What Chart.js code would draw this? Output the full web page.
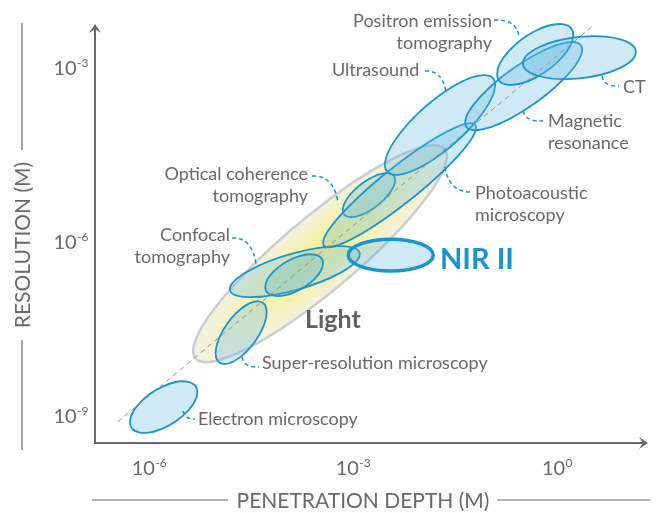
<!DOCTYPE html>
<html>
<head>
<meta charset="utf-8">
<script src="https://cdn.jsdelivr.net/npm/chart.js@4/dist/chart.umd.min.js"></script>
<style>
  body { margin: 0; background: #fff; }
  canvas { display: block; }
</style>
</head>
<body>
<canvas id="chart" width="656" height="513"></canvas>
<script>
// all values are log10 of metres
const techniques = ["Light", "Electron microscopy", "Super-resolution microscopy", "Confocal tomography",
  "Confocal tomography", "Optical coherence tomography", "Photoacoustic microscopy", "Ultrasound",
  "Magnetic resonance", "Positron emission tomography", "CT", "NIR II"];
const depthMin = [-5.35, -6.28, -5.02, -4.81, -4.29, -3.15, -3.44, -2.53, -1.35, -0.88, -0.50, -3.07];
const depthMax = [-1.62, -5.29, -4.27, -2.90, -3.44, -2.38, -1.19, -0.91, 0.37, 0.24, 1.16, -1.82];
const resMin = [-8.08, -9.30, -8.11, -6.96, -6.94, -5.58, -6.10, -4.85, -4.08, -3.30, -3.20, -6.51];
const resMax = [-4.34, -8.41, -7.03, -6.08, -6.22, -4.82, -3.96, -3.13, -2.56, -2.25, -2.46, -5.96];
// how far the deepest end of each region leans toward coarser resolution (0 = level, 1 = a line)
const tilt = [0.9, 0.58, 0.65, 0.68, 0.57, 0.68, 0.93, 0.8, 0.83, 0.64, 0.26, 0];

const xTicks = [-6, -3, 0];
const yTicks = [-9, -6, -3];
const trendDepth = [-6.46, 0.53];
const trendRes = [-9.11, -2.28];

const grey = "#6e6668";
const blue = "#1a94cf";
const font = "Lato, 'Open Sans', sans-serif";

// label text and leader curves, in pixels
const notes = [
  {lines: ["Positron emission", "tomography"], x: 492, y: 27, align: "right", lead: [494, 20, 517, 19, 519, 37]},
  {lines: ["Ultrasound"], x: 332, y: 76, align: "left", lead: [425, 71, 443, 70, 446, 93]},
  {lines: ["CT"], x: 623, y: 93, align: "left", lead: [602, 76, 604, 87, 619, 86]},
  {lines: ["Magnetic", "resonance"], x: 548, y: 127, align: "left", lead: [523, 111, 526, 122, 543, 121]},
  {lines: ["Photoacoustic", "microscopy"], x: 475, y: 199, align: "left", lead: [445, 167, 449, 193, 473, 192]},
  {lines: ["Optical coherence", "tomography"], x: 308, y: 180, align: "right", lead: [312, 176, 334, 175, 338, 203]},
  {lines: ["Confocal", "tomography"], x: 230, y: 241, align: "right", lead: [232, 238, 252, 237, 256, 264]},
  {lines: ["Super-resolution microscopy"], x: 262, y: 369, align: "left", lead: [242, 357, 244, 368, 259, 367]},
  {lines: ["Electron microscopy"], x: 198, y: 425, align: "left", lead: [183, 411, 186, 420, 195, 419]}
];

function ellipsePath(ctx, chart, i) {
  var xs = chart.scales.x, ys = chart.scales.y;
  var cx = xs.getPixelForValue((depthMin[i] + depthMax[i]) / 2);
  var cy = ys.getPixelForValue((resMin[i] + resMax[i]) / 2);
  var w = xs.getPixelForValue(depthMax[i]) - cx;
  var h = ys.getPixelForValue(resMin[i]) - cy;
  var k = tilt[i] * h;
  var q = Math.sqrt(h * h - k * k);
  ctx.transform(w, -k, 0, q, cx, cy);
  ctx.beginPath();
  ctx.arc(0, 0, 1, 0, Math.PI * 2);
}

var regions = {
  id: "regions",
  beforeDatasetsDraw: function(chart) {
    var ctx = chart.ctx;
    techniques.forEach(function(name, i) {
      ctx.save();
      ellipsePath(ctx, chart, i);
      if (name == "Light") {
        var g = ctx.createRadialGradient(0, 0, 0, 0, 0, 1);
        g.addColorStop(0, "#f5ee8a");
        g.addColorStop(0.55, "#f6f1b4");
        g.addColorStop(1, "#f3f2e0");
        ctx.fillStyle = g;
        ctx.fill();
        ctx.restore();
        ctx.strokeStyle = "#cdcdcd";
        ctx.lineWidth = 2.5;
        ctx.stroke();
      } else {
        ctx.restore();
        ctx.fillStyle = "rgba(100,185,222,0.3)";
        ctx.fill();
        ctx.strokeStyle = blue;
        ctx.lineWidth = name == "NIR II" ? 3.5 : 1.8;
        ctx.stroke();
      }
    });
  },
  afterDraw: function(chart) {
    var ctx = chart.ctx;
    var xs = chart.scales.x, ys = chart.scales.y;
    var a = chart.chartArea;
    ctx.save();

    // axes with arrow heads
    ctx.strokeStyle = grey;
    ctx.fillStyle = grey;
    ctx.lineWidth = 2;
    ctx.beginPath();
    ctx.moveTo(a.left, a.top + 2);
    ctx.lineTo(a.left, a.bottom);
    ctx.lineTo(a.right - 2, a.bottom);
    ctx.stroke();
    ctx.beginPath();
    ctx.moveTo(a.left, a.top - 1);
    ctx.lineTo(a.left + 6, a.top + 8);
    ctx.lineTo(a.left, a.top + 4);
    ctx.lineTo(a.left - 6, a.top + 8);
    ctx.closePath();
    ctx.fill();
    ctx.beginPath();
    ctx.moveTo(a.right + 1, a.bottom);
    ctx.lineTo(a.right - 8, a.bottom - 6);
    ctx.lineTo(a.right - 4, a.bottom);
    ctx.lineTo(a.right - 8, a.bottom + 6);
    ctx.closePath();
    ctx.fill();

    // tick labels 10^n
    function pow(exp, x, y, align) {
      ctx.font = "20px " + font;
      var w1 = ctx.measureText("10").width;
      ctx.font = "12px " + font;
      var w2 = ctx.measureText(String(exp)).width;
      var x0 = align == "center" ? x - (w1 + w2) / 2 : x - w1 - w2;
      ctx.textAlign = "left";
      ctx.font = "20px " + font;
      ctx.fillText("10", x0, y);
      ctx.font = "12px " + font;
      ctx.fillText(String(exp), x0 + w1 + 0.5, y - 8);
    }
    ctx.textBaseline = "alphabetic";
    xTicks.forEach(function(v) { pow(v, xs.getPixelForValue(v), 475, "center"); });
    yTicks.forEach(function(v) { pow(v, 88, ys.getPixelForValue(v) + 7.5, "right"); });

    // axis titles with rules
    ctx.lineWidth = 1.2;
    ctx.font = "21px " + font;
    ctx.textAlign = "center";
    ctx.fillText("PENETRATION DEPTH (M)", 363, 508);
    ctx.beginPath();
    ctx.moveTo(92, 500); ctx.lineTo(228, 500);
    ctx.moveTo(497, 500); ctx.lineTo(650, 500);
    ctx.moveTo(22, 23); ctx.lineTo(22, 150);
    ctx.moveTo(22, 340); ctx.lineTo(22, 450);
    ctx.stroke();
    ctx.save();
    ctx.translate(30, 245);
    ctx.rotate(-Math.PI / 2);
    ctx.fillText("RESOLUTION (M)", 0, 0);
    ctx.restore();

    // leader lines
    ctx.strokeStyle = blue;
    ctx.lineWidth = 1.5;
    ctx.setLineDash([4, 3]);
    notes.forEach(function(n) {
      var l = n.lead;
      ctx.beginPath();
      ctx.moveTo(l[0], l[1]);
      ctx.quadraticCurveTo(l[2], l[3], l[4], l[5]);
      ctx.stroke();
    });
    ctx.setLineDash([]);

    // labels
    ctx.font = "18px " + font;
    ctx.fillStyle = grey;
    notes.forEach(function(n) {
      ctx.textAlign = n.align;
      n.lines.forEach(function(t, j) { ctx.fillText(t, n.x, n.y + j * 22); });
    });
    ctx.textAlign = "left";
    ctx.font = "bold 25px " + font;
    ctx.fillStyle = "#665e60";
    ctx.fillText("Light", 305, 328);
    ctx.font = "bold 29px " + font;
    ctx.fillStyle = blue;
    ctx.fillText("NIR II", 440, 269);
    ctx.restore();
  }
};

new Chart(document.getElementById("chart"), {
  type: "scatter",
  data: {
    datasets: [{
      type: "line",
      data: trendDepth.map(function(d, i) { return {x: d, y: trendRes[i]}; }),
      borderColor: "#959595",
      borderWidth: 1,
      borderDash: [5, 4],
      pointRadius: 0
    }]
  },
  options: {
    responsive: false,
    animation: false,
    devicePixelRatio: 1,
    layout: { padding: { top: 25, right: 9, left: 0, bottom: 0 } },
    plugins: { legend: { display: false }, tooltip: { enabled: false } },
    scales: {
      x: {
        type: "linear", min: -6.794, max: 1.324,
        grid: { display: false }, border: { display: false },
        ticks: { display: false },
        afterBuildTicks: function(s) { s.ticks = xTicks.map(function(v) { return {value: v}; }); },
        afterFit: function(s) { s.height = 70; }
      },
      y: {
        type: "linear", min: -9.474, max: -2.267,
        grid: { display: false }, border: { display: false },
        ticks: { display: false },
        afterBuildTicks: function(s) { s.ticks = yTicks.map(function(v) { return {value: v}; }); },
        afterFit: function(s) { s.width = 95; }
      }
    }
  },
  plugins: [regions]
});
</script>
</body>
</html>
